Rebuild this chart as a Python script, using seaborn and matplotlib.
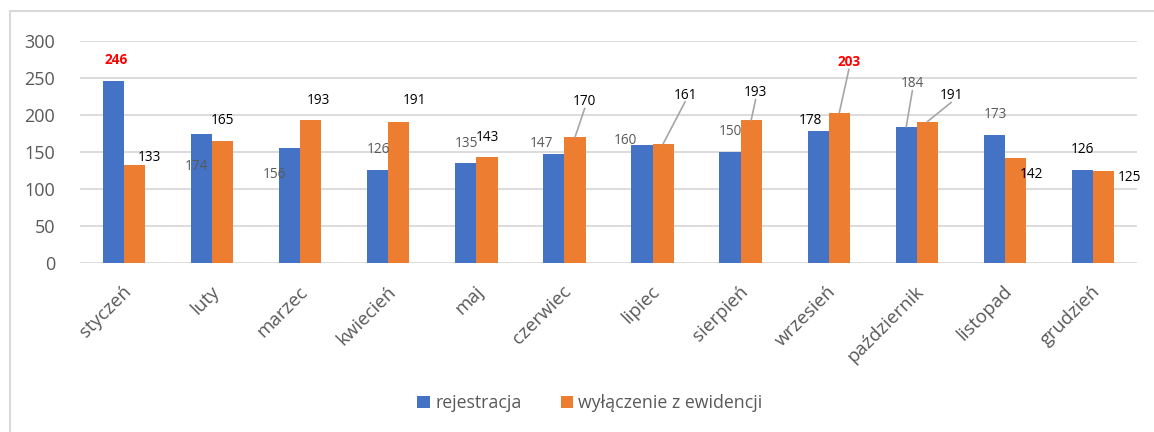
import matplotlib
matplotlib.use("Agg")
import matplotlib.pyplot as plt
import seaborn as sns
import pandas as pd
from matplotlib.patches import Rectangle, Patch

months = ["styczeń", "luty", "marzec", "kwiecień", "maj", "czerwiec",
          "lipiec", "sierpień", "wrzesień", "październik", "listopad", "grudzień"]
rejestracja = [246, 174, 156, 126, 135, 147, 160, 150, 178, 184, 173, 126]
wylaczenie = [133, 165, 193, 191, 143, 170, 161, 193, 203, 191, 142, 125]
series_names = ["rejestracja", "wyłączenie z ewidencji"]

# label placement (x offset from category centre, y position in data units), leader flag, colour, bold
lab_reg = [(-0.09, 274, False, "red", True), (-0.18, 131, False, "#595959", False),
           (-0.29, 119, False, "#595959", False), (-0.11, 153, False, "#595959", False),
           (-0.11, 162, False, "#595959", False), (-0.26, 162, False, "#595959", False),
           (-0.31, 165, False, "#595959", False), (-0.12, 178, False, "#595959", False),
           (-0.21, 193, False, "black", False), (-0.05, 242, True, "#595959", False),
           (-0.11, 201, False, "#595959", False), (-0.12, 154, False, "black", False)]
lab_wyl = [(0.29, 143, False, "black", False), (0.12, 193, False, "black", False),
           (0.21, 219, False, "black", False), (0.30, 219, False, "black", False),
           (0.13, 170, False, "black", False), (0.23, 218, True, "black", False),
           (0.37, 227, True, "black", False), (0.17, 230, True, "black", False),
           (0.23, 271, True, "red", True), (0.39, 226, True, "black", False),
           (0.30, 120, False, "black", False), (0.41, 115, False, "black", False)]

df = pd.DataFrame({
    "miesiac": months * 2,
    "wartosc": rejestracja + wylaczenie,
    "seria": [series_names[0]] * 12 + [series_names[1]] * 12,
})

sns.set_theme(style="white")
plt.rcParams["font.family"] = ["Open Sans", "DejaVu Sans"]

colors = ["#4472C4", "#ED7D31"]
fig = plt.figure(figsize=(11.54, 4.32), dpi=100)
ax = fig.add_axes([80 / 1154, 1 - 263 / 432, (1137 - 80) / 1154, 222 / 432])

sns.barplot(data=df, x="miesiac", y="wartosc", hue="seria", palette=colors,
            width=0.48, ax=ax, legend=False, saturation=1, linewidth=0)

ax.set_ylim(0, 300)
ax.set_xlim(-0.5, 11.5)
ax.set_yticks(range(0, 301, 50))
ax.grid(axis="y", color="#d9d9d9", linewidth=1.3)
ax.set_axisbelow(True)
for s in ax.spines.values():
    s.set_visible(False)
ax.set_xlabel("")
ax.set_ylabel("")
ax.tick_params(axis="y", labelsize=13, labelcolor="#595959", length=0, pad=18)
ax.tick_params(axis="x", labelsize=13.5, labelcolor="#595959", length=0, pad=14)
ax.set_xticks(range(12))
ax.set_xticklabels(months, rotation=45, ha="right", rotation_mode="anchor")
for lbl in ax.get_xticklabels():
    lbl.set_transform(lbl.get_transform() + matplotlib.transforms.ScaledTranslation(-2 / 100, 0, fig.dpi_scale_trans))

def put_labels(vals, labs, off):
    for i, (v, (dx, ly, leader, col, bold)) in enumerate(zip(vals, labs)):
        ax.text(i + dx, ly, str(v), ha="center", va="center", fontsize=9.8,
                color=col, fontweight="bold" if bold else "normal")
        if leader:
            ax.plot([i + dx, i + off], [ly - 9, v], color="#a6a6a6", linewidth=1.2, zorder=1.5)

put_labels(rejestracja, lab_reg, -0.12)
put_labels(wylaczenie, lab_wyl, 0.12)

handles = [Patch(facecolor=c, edgecolor="none") for c in colors]
fig.legend(handles, series_names, loc="center", bbox_to_anchor=(590 / 1154, 1 - 403 / 432),
           ncol=2, frameon=False, fontsize=12.8, labelcolor="#595959",
           handlelength=0.7, handleheight=0.7, handletextpad=0.3, columnspacing=2.2)

fig.patches.append(Rectangle((10 / 1154, -0.2), 1.2, 1.2 - 11 / 432, transform=fig.transFigure,
                             fill=False, edgecolor="#d9d9d9", linewidth=1.5, zorder=0))

fig.savefig("out.png", dpi=100)
